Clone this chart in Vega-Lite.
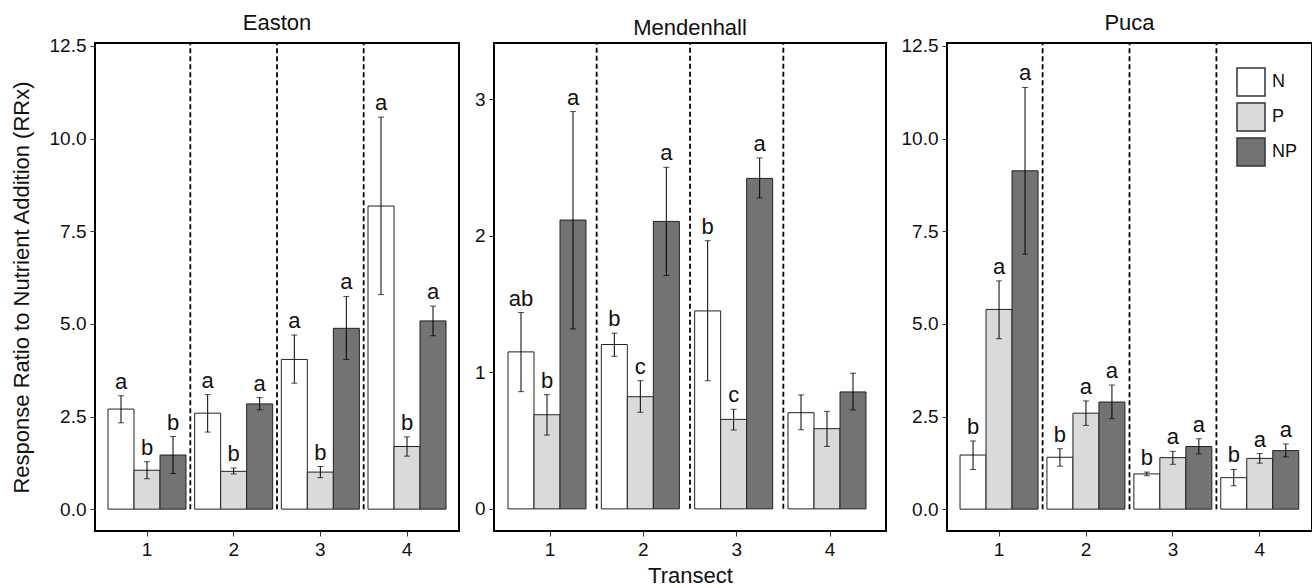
{
  "$schema": "https://vega.github.io/schema/vega-lite/v6.json",
  "padding": {"left": 9, "top": 10, "right": 0, "bottom": 0},
  "config": {
    "font": "Liberation Sans",
    "view": {"stroke": "black", "strokeWidth": 2},
    "axis": {"grid": false, "domain": false, "tickColor": "#333", "tickSize": 5, "labelFontSize": 19, "labelColor": "#111", "titleFontSize": 22, "titleFontWeight": "normal", "titleColor": "#111", "labelPadding": 4},
    "title": {"fontSize": 22, "fontWeight": "normal", "offset": 2, "color": "#111"},
    "concat": {"spacing": 13}
  },
  "datasets": {
    "bars": [
      {"Site": "Easton", "Transect": "1", "Treatment": "N", "mean": 2.70, "lo": 2.33, "hi": 3.06, "Letter": "a"},
      {"Site": "Easton", "Transect": "1", "Treatment": "P", "mean": 1.05, "lo": 0.82, "hi": 1.28, "Letter": "b"},
      {"Site": "Easton", "Transect": "1", "Treatment": "NP", "mean": 1.46, "lo": 0.96, "hi": 1.96, "Letter": "b"},
      {"Site": "Easton", "Transect": "2", "Treatment": "N", "mean": 2.59, "lo": 2.08, "hi": 3.09, "Letter": "a"},
      {"Site": "Easton", "Transect": "2", "Treatment": "P", "mean": 1.02, "lo": 0.95, "hi": 1.11, "Letter": "b"},
      {"Site": "Easton", "Transect": "2", "Treatment": "NP", "mean": 2.84, "lo": 2.68, "hi": 3.01, "Letter": "a"},
      {"Site": "Easton", "Transect": "3", "Treatment": "N", "mean": 4.04, "lo": 3.40, "hi": 4.70, "Letter": "a"},
      {"Site": "Easton", "Transect": "3", "Treatment": "P", "mean": 1.00, "lo": 0.85, "hi": 1.15, "Letter": "b"},
      {"Site": "Easton", "Transect": "3", "Treatment": "NP", "mean": 4.88, "lo": 4.04, "hi": 5.74, "Letter": "a"},
      {"Site": "Easton", "Transect": "4", "Treatment": "N", "mean": 8.18, "lo": 5.79, "hi": 10.58, "Letter": "a"},
      {"Site": "Easton", "Transect": "4", "Treatment": "P", "mean": 1.69, "lo": 1.43, "hi": 1.95, "Letter": "b"},
      {"Site": "Easton", "Transect": "4", "Treatment": "NP", "mean": 5.08, "lo": 4.68, "hi": 5.48, "Letter": "a"},
      {"Site": "Mendenhall", "Transect": "1", "Treatment": "N", "mean": 1.149, "lo": 0.858, "hi": 1.437, "Letter": "ab"},
      {"Site": "Mendenhall", "Transect": "1", "Treatment": "P", "mean": 0.689, "lo": 0.540, "hi": 0.836, "Letter": "b"},
      {"Site": "Mendenhall", "Transect": "1", "Treatment": "NP", "mean": 2.114, "lo": 1.317, "hi": 2.908, "Letter": "a"},
      {"Site": "Mendenhall", "Transect": "2", "Treatment": "N", "mean": 1.203, "lo": 1.117, "hi": 1.286, "Letter": "b"},
      {"Site": "Mendenhall", "Transect": "2", "Treatment": "P", "mean": 0.821, "lo": 0.707, "hi": 0.938, "Letter": "c"},
      {"Site": "Mendenhall", "Transect": "2", "Treatment": "NP", "mean": 2.104, "lo": 1.708, "hi": 2.500, "Letter": "a"},
      {"Site": "Mendenhall", "Transect": "3", "Treatment": "N", "mean": 1.449, "lo": 0.938, "hi": 1.963, "Letter": "b"},
      {"Site": "Mendenhall", "Transect": "3", "Treatment": "P", "mean": 0.655, "lo": 0.577, "hi": 0.729, "Letter": "c"},
      {"Site": "Mendenhall", "Transect": "3", "Treatment": "NP", "mean": 2.419, "lo": 2.276, "hi": 2.569, "Letter": "a"},
      {"Site": "Mendenhall", "Transect": "4", "Treatment": "N", "mean": 0.704, "lo": 0.579, "hi": 0.834, "Letter": ""},
      {"Site": "Mendenhall", "Transect": "4", "Treatment": "P", "mean": 0.587, "lo": 0.457, "hi": 0.714, "Letter": ""},
      {"Site": "Mendenhall", "Transect": "4", "Treatment": "NP", "mean": 0.856, "lo": 0.724, "hi": 0.993, "Letter": ""},
      {"Site": "Puca", "Transect": "1", "Treatment": "N", "mean": 1.46, "lo": 1.07, "hi": 1.84, "Letter": "b"},
      {"Site": "Puca", "Transect": "1", "Treatment": "P", "mean": 5.39, "lo": 4.60, "hi": 6.16, "Letter": "a"},
      {"Site": "Puca", "Transect": "1", "Treatment": "NP", "mean": 9.13, "lo": 6.88, "hi": 11.38, "Letter": "a"},
      {"Site": "Puca", "Transect": "2", "Treatment": "N", "mean": 1.40, "lo": 1.16, "hi": 1.63, "Letter": "b"},
      {"Site": "Puca", "Transect": "2", "Treatment": "P", "mean": 2.59, "lo": 2.26, "hi": 2.92, "Letter": "a"},
      {"Site": "Puca", "Transect": "2", "Treatment": "NP", "mean": 2.89, "lo": 2.44, "hi": 3.35, "Letter": "a"},
      {"Site": "Puca", "Transect": "3", "Treatment": "N", "mean": 0.95, "lo": 0.90, "hi": 1.00, "Letter": "b"},
      {"Site": "Puca", "Transect": "3", "Treatment": "P", "mean": 1.39, "lo": 1.21, "hi": 1.56, "Letter": "a"},
      {"Site": "Puca", "Transect": "3", "Treatment": "NP", "mean": 1.69, "lo": 1.49, "hi": 1.90, "Letter": "a"},
      {"Site": "Puca", "Transect": "4", "Treatment": "N", "mean": 0.85, "lo": 0.63, "hi": 1.07, "Letter": "b"},
      {"Site": "Puca", "Transect": "4", "Treatment": "P", "mean": 1.37, "lo": 1.24, "hi": 1.50, "Letter": "a"},
      {"Site": "Puca", "Transect": "4", "Treatment": "NP", "mean": 1.58, "lo": 1.41, "hi": 1.76, "Letter": "a"}
    ],
    "seps": [{"pos": 1.5}, {"pos": 2.5}, {"pos": 3.5}]
  },
  "resolve": {"scale": {"fill": "independent"}, "legend": {"fill": "independent"}},
  "hconcat": [
    {
      "title": "Easton",
      "width": 364, "height": 488,
      "resolve": {"scale": {"x": "independent"}, "axis": {"x": "independent"}},
      "layer": [
        {
          "data": {"name": "seps"},
          "mark": {"type": "rule", "strokeDash": [5, 3], "strokeWidth": 1.8, "color": "black"},
          "encoding": {
            "x": {"field": "pos", "type": "quantitative", "scale": {"domain": [0.4, 4.6], "nice": false, "zero": false}, "axis": null},
            "y": {"datum": 0, "type": "quantitative", "scale": {"domain": [-0.59, 12.58], "nice": false, "zero": false}},
            "y2": {"datum": 12.58}
          }
        },
        {
          "data": {"name": "bars"},
          "transform": [{"filter": "datum.Site === 'Easton'"}],
          "encoding": {
            "x": {"field": "Transect", "type": "ordinal", "scale": {"paddingInner": 0.1, "paddingOuter": 0.15}, "axis": {"title": null, "labelAngle": 0}},
            "xOffset": {"field": "Treatment", "type": "nominal", "sort": ["N", "P", "NP"], "scale": {"paddingInner": 0, "paddingOuter": 0}}
          },
          "layer": [
            {
              "mark": {"type": "bar", "stroke": "#222", "strokeWidth": 1},
              "encoding": {
                "y": {"field": "mean", "type": "quantitative", "scale": {"domain": [-0.59, 12.58], "nice": false, "zero": false}, "axis": {"values": [0, 2.5, 5, 7.5, 10, 12.5], "format": ".1f", "title": "Response Ratio to Nutrient Addition (RRx)", "titlePadding": 16}},
                "fill": {"field": "Treatment", "type": "nominal", "scale": {"domain": ["N", "P", "NP"], "range": ["#ffffff", "#d9dbda", "#737373"]}, "legend": null}
              }
            },
            {
              "mark": {"type": "rule", "color": "black", "strokeWidth": 1},
              "encoding": {"y": {"field": "lo", "type": "quantitative"}, "y2": {"field": "hi"}}
            },
            {
              "mark": {"type": "tick", "color": "black", "thickness": 1, "size": 6},
              "encoding": {"y": {"field": "lo", "type": "quantitative"}}
            },
            {
              "mark": {"type": "tick", "color": "black", "thickness": 1, "size": 6},
              "encoding": {"y": {"field": "hi", "type": "quantitative"}}
            },
            {
              "mark": {"type": "text", "fontSize": 22, "dy": -7, "baseline": "alphabetic", "color": "#111"},
              "encoding": {"y": {"field": "hi", "type": "quantitative"}, "text": {"field": "Letter"}}
            }
          ]
        }
      ]
    },
    {
      "title": "Mendenhall",
      "width": 392, "height": 488,
      "resolve": {"scale": {"x": "independent"}, "axis": {"x": "independent"}},
      "layer": [
        {
          "data": {"name": "seps"},
          "mark": {"type": "rule", "strokeDash": [5, 3], "strokeWidth": 1.8, "color": "black"},
          "encoding": {
            "x": {"field": "pos", "type": "quantitative", "scale": {"domain": [0.4, 4.6], "nice": false, "zero": false}, "axis": null},
            "y": {"datum": 0, "type": "quantitative", "scale": {"domain": [-0.162, 3.41], "nice": false, "zero": false}},
            "y2": {"datum": 3.41}
          }
        },
        {
          "data": {"name": "bars"},
          "transform": [{"filter": "datum.Site === 'Mendenhall'"}],
          "encoding": {
            "x": {"field": "Transect", "type": "ordinal", "scale": {"paddingInner": 0.1, "paddingOuter": 0.15}, "axis": {"title": "Transect", "labelAngle": 0, "titlePadding": 6}},
            "xOffset": {"field": "Treatment", "type": "nominal", "sort": ["N", "P", "NP"], "scale": {"paddingInner": 0, "paddingOuter": 0}}
          },
          "layer": [
            {
              "mark": {"type": "bar", "stroke": "#222", "strokeWidth": 1},
              "encoding": {
                "y": {"field": "mean", "type": "quantitative", "scale": {"domain": [-0.162, 3.41], "nice": false, "zero": false}, "axis": {"values": [0, 1, 2, 3], "format": "d", "title": null}},
                "fill": {"field": "Treatment", "type": "nominal", "scale": {"domain": ["N", "P", "NP"], "range": ["#ffffff", "#d9dbda", "#737373"]}, "legend": null}
              }
            },
            {
              "mark": {"type": "rule", "color": "black", "strokeWidth": 1},
              "encoding": {"y": {"field": "lo", "type": "quantitative"}, "y2": {"field": "hi"}}
            },
            {
              "mark": {"type": "tick", "color": "black", "thickness": 1, "size": 6},
              "encoding": {"y": {"field": "lo", "type": "quantitative"}}
            },
            {
              "mark": {"type": "tick", "color": "black", "thickness": 1, "size": 6},
              "encoding": {"y": {"field": "hi", "type": "quantitative"}}
            },
            {
              "mark": {"type": "text", "fontSize": 22, "dy": -7, "baseline": "alphabetic", "color": "#111"},
              "encoding": {"y": {"field": "hi", "type": "quantitative"}, "text": {"field": "Letter"}}
            }
          ]
        }
      ]
    },
    {
      "title": "Puca",
      "width": 365, "height": 488,
      "resolve": {"scale": {"x": "independent"}, "axis": {"x": "independent"}},
      "layer": [
        {
          "data": {"name": "seps"},
          "mark": {"type": "rule", "strokeDash": [5, 3], "strokeWidth": 1.8, "color": "black"},
          "encoding": {
            "x": {"field": "pos", "type": "quantitative", "scale": {"domain": [0.4, 4.6], "nice": false, "zero": false}, "axis": null},
            "y": {"datum": 0, "type": "quantitative", "scale": {"domain": [-0.59, 12.58], "nice": false, "zero": false}},
            "y2": {"datum": 12.58}
          }
        },
        {
          "data": {"name": "bars"},
          "transform": [{"filter": "datum.Site === 'Puca'"}],
          "encoding": {
            "x": {"field": "Transect", "type": "ordinal", "scale": {"paddingInner": 0.1, "paddingOuter": 0.15}, "axis": {"title": null, "labelAngle": 0}},
            "xOffset": {"field": "Treatment", "type": "nominal", "sort": ["N", "P", "NP"], "scale": {"paddingInner": 0, "paddingOuter": 0}}
          },
          "layer": [
            {
              "mark": {"type": "bar", "stroke": "#222", "strokeWidth": 1},
              "encoding": {
                "y": {"field": "mean", "type": "quantitative", "scale": {"domain": [-0.59, 12.58], "nice": false, "zero": false}, "axis": {"values": [0, 2.5, 5, 7.5, 10, 12.5], "format": ".1f", "title": null}},
                "fill": {"field": "Treatment", "type": "nominal", "scale": {"domain": ["N", "P", "NP"], "range": ["#ffffff", "#d9dbda", "#737373"]}, "legend": {"title": null, "orient": "none", "legendX": 289, "legendY": 24, "symbolType": "square", "symbolSize": 784, "symbolStrokeColor": "#333", "symbolStrokeWidth": 1.5, "labelFontSize": 18, "labelOffset": 6, "rowPadding": 1, "padding": 0, "labelColor": "#111"}}
              }
            },
            {
              "mark": {"type": "rule", "color": "black", "strokeWidth": 1},
              "encoding": {"y": {"field": "lo", "type": "quantitative"}, "y2": {"field": "hi"}}
            },
            {
              "mark": {"type": "tick", "color": "black", "thickness": 1, "size": 6},
              "encoding": {"y": {"field": "lo", "type": "quantitative"}}
            },
            {
              "mark": {"type": "tick", "color": "black", "thickness": 1, "size": 6},
              "encoding": {"y": {"field": "hi", "type": "quantitative"}}
            },
            {
              "mark": {"type": "text", "fontSize": 22, "dy": -7, "baseline": "alphabetic", "color": "#111"},
              "encoding": {"y": {"field": "hi", "type": "quantitative"}, "text": {"field": "Letter"}}
            }
          ]
        }
      ]
    }
  ]
}
